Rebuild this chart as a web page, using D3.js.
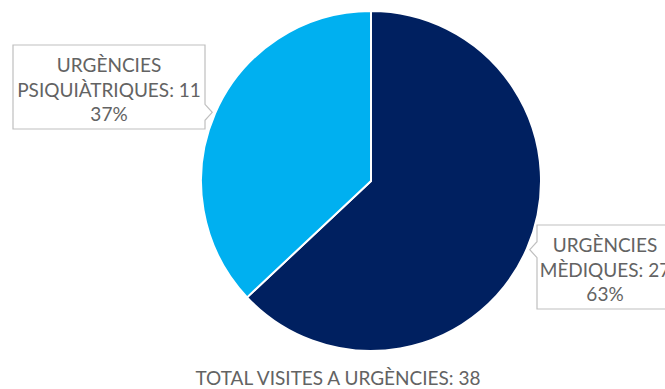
<!DOCTYPE html>
<html>
<head>
<meta charset="utf-8">
<script src="https://cdn.jsdelivr.net/npm/d3@7/dist/d3.min.js"></script>
<style>
  html, body { margin: 0; padding: 0; background: #fff; }
  svg { display: block; }
  text { font-family: Lato, "Open Sans", sans-serif; fill: #636363; }
</style>
</head>
<body>
<svg id="chart" width="665" height="389"></svg>
<script>
// Emergency visits by type
const categories = ["URGÈNCIES MÈDIQUES", "URGÈNCIES PSIQUIÀTRIQUES"];
const visits = [27, 11];
const shares = [63, 37];           // percentage shown for each slice
const colors = ["#002060", "#00B0F0"];
const totalLabel = "TOTAL VISITES A URGÈNCIES";
const totalVisits = 38;

const svg = d3.select("#chart");
const cx = 371, cy = 181, radius = 170;
const fontSize = 19, lineH = 24.5;

const rows = categories.map((c, i) => ({ cat: c, n: visits[i], pct: shares[i], color: colors[i] }));

const pie = d3.pie().sort(null).value(d => d.pct);
const arcs = pie(rows);
const arc = d3.arc().innerRadius(0).outerRadius(radius);

const g = svg.append("g").attr("transform", `translate(${cx},${cy})`);
g.selectAll("path.slice")
  .data(arcs)
  .join("path")
  .attr("class", "slice")
  .attr("d", arc)
  .attr("fill", d => d.data.color)
  .attr("stroke", "#fff")
  .attr("stroke-width", 2)
  .attr("stroke-linejoin", "round");

// Callout boxes: box placement per slice, pointer tip on the slice's mid angle
const callouts = [
  { side: "left",  x: 13,  y: 45,  w: 192, h: 84, lines: d => ["URGÈNCIES", "PSIQUIÀTRIQUES: " + d.data.n, d.data.pct + "%"] },
  { side: "right", x: 537, y: 225, w: 136, h: 84, lines: d => ["URGÈNCIES", "MÈDIQUES: " + d.data.n, d.data.pct + "%"] }
];
const calloutFor = [callouts[1], callouts[0]];

arcs.forEach((a, i) => {
  const c = calloutFor[i];
  const mid = (a.startAngle + a.endAngle) / 2;
  const rt = radius + 3;
  const tx = cx + rt * Math.sin(mid);
  const ty = cy - rt * Math.cos(mid);
  const half = 8;
  const xr = c.x + c.w;
  const py = Math.min(Math.max(ty, c.y + half + 2), c.y + c.h - half - 2);
  const p = c.side === "left"
    ? `M${c.x},${c.y}H${xr}V${py - half}L${tx},${ty}L${xr},${py + half}V${c.y + c.h}H${c.x}Z`
    : `M${c.x},${c.y}H${xr}V${c.y + c.h}H${c.x}V${py + half}L${tx},${ty}L${c.x},${py - half}Z`;
  svg.append("path")
    .attr("d", p)
    .attr("fill", "#fff")
    .attr("stroke", "#bfbfbf")
    .attr("stroke-width", 1.2);

  const t = svg.append("text")
    .attr("text-anchor", "middle")
    .attr("font-size", fontSize);
  c.lines(a).forEach((ln, k) => {
    t.append("tspan")
      .attr("x", c.x + c.w / 2)
      .attr("y", c.y + 27 + k * lineH)
      .text(ln);
  });
});

svg.append("text")
  .attr("x", 338)
  .attr("y", 385)
  .attr("text-anchor", "middle")
  .attr("font-size", fontSize)
  .text(`${totalLabel}: ${totalVisits}`);
</script>
</body>
</html>
